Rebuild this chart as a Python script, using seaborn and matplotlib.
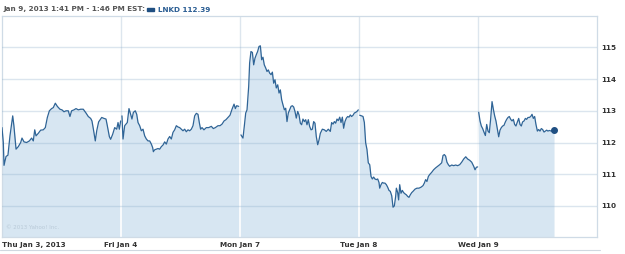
import numpy as np
import pandas as pd
import seaborn as sns
import matplotlib
matplotlib.use("Agg")
import matplotlib.pyplot as plt
from matplotlib.lines import Line2D
from matplotlib.patches import Rectangle

# ---- data: time in trading days since Thu Jan 3 open, price in USD ----
t_thu = [0.0, 0.011, 0.017, 0.034, 0.05, 0.067, 0.09, 0.1, 0.118, 0.137, 0.157, 0.168, 0.185,
         0.207, 0.23, 0.249, 0.263, 0.275, 0.286, 0.305, 0.325, 0.347, 0.364, 0.381, 0.398,
         0.417, 0.431, 0.448, 0.465, 0.487, 0.504, 0.521, 0.538, 0.557, 0.571, 0.585, 0.605,
         0.622, 0.641, 0.661, 0.683, 0.706, 0.725, 0.745, 0.756, 0.768, 0.784, 0.796, 0.812,
         0.838, 0.857, 0.874, 0.885, 0.902, 0.913, 0.93, 0.947, 0.964, 0.975, 0.986, 0.997]
p_thu = [112.47, 112.0, 111.28, 111.56, 111.6, 112.21, 112.84, 112.53, 111.79, 111.87, 112.0,
         112.14, 112.02, 112.0, 112.05, 112.14, 112.05, 112.4, 112.21, 112.29, 112.39, 112.4,
         112.47, 112.79, 113.0, 113.07, 113.1, 113.24, 113.14, 113.05, 113.03, 112.97, 113.0,
         113.0, 112.82, 113.0, 113.03, 113.07, 113.03, 113.05, 113.05, 112.93, 112.82, 112.76,
         112.68, 112.42, 112.05, 112.37, 112.65, 112.79, 112.76, 112.74, 112.53, 112.19, 112.1,
         112.26, 112.47, 112.42, 112.63, 112.42, 112.68]

t_fri = [1.008, 1.017, 1.031, 1.053, 1.067, 1.081, 1.092, 1.104, 1.12, 1.132, 1.143, 1.157,
         1.171, 1.185, 1.199, 1.213, 1.227, 1.241, 1.255, 1.266, 1.272, 1.283, 1.297, 1.311,
         1.325, 1.339, 1.353, 1.367, 1.381, 1.395, 1.409, 1.423, 1.437, 1.451, 1.465, 1.479,
         1.493, 1.507, 1.521, 1.535, 1.549, 1.563, 1.577, 1.591, 1.605, 1.619, 1.633, 1.647,
         1.658, 1.669, 1.681, 1.697, 1.717, 1.737, 1.759, 1.776, 1.793, 1.815, 1.832, 1.849,
         1.866, 1.882, 1.899, 1.916, 1.933, 1.95, 1.961, 1.972, 1.989]
p_fri = [112.84, 112.11, 112.53, 112.63, 113.07, 112.89, 112.74, 112.95, 113.0, 112.89, 112.63,
         112.53, 112.37, 112.42, 112.21, 112.11, 112.05, 112.05, 111.95, 111.84, 111.71, 111.77,
         111.79, 111.81, 111.79, 111.87, 111.92, 112.02, 111.95, 112.11, 112.19, 112.11, 112.32,
         112.4, 112.53, 112.49, 112.47, 112.42, 112.37, 112.42, 112.34, 112.4, 112.37, 112.42,
         112.53, 112.84, 112.92, 112.89, 112.63, 112.42, 112.47, 112.4, 112.47, 112.47, 112.51,
         112.44, 112.47, 112.53, 112.53, 112.58, 112.68, 112.72, 112.79, 112.86, 113.05, 113.21,
         113.07, 113.16, 113.14]

t_mon = [2.008, 2.025, 2.036, 2.048, 2.059, 2.073, 2.081, 2.092, 2.104, 2.115, 2.126, 2.137,
         2.148, 2.16, 2.171, 2.182, 2.193, 2.204, 2.216, 2.227, 2.238, 2.249, 2.261, 2.272,
         2.283, 2.294, 2.305, 2.317, 2.328, 2.339, 2.35, 2.361, 2.373, 2.384, 2.395, 2.406,
         2.417, 2.429, 2.44, 2.451, 2.462, 2.473, 2.485, 2.496, 2.507, 2.518, 2.529, 2.541,
         2.552, 2.563, 2.574, 2.585, 2.597, 2.608, 2.619, 2.63, 2.641, 2.653, 2.664, 2.675,
         2.692, 2.709, 2.725, 2.742, 2.759, 2.77, 2.782, 2.793, 2.804, 2.815, 2.826, 2.838,
         2.849, 2.86, 2.871, 2.882, 2.894, 2.905, 2.916, 2.927, 2.938, 2.95, 2.961, 2.972,
         2.983, 2.994]
p_mon = [112.24, 112.14, 112.51, 112.93, 113.03, 113.77, 114.51, 114.87, 114.84, 114.45, 114.66,
         114.77, 114.87, 115.03, 115.05, 114.61, 114.69, 114.45, 114.35, 114.24, 114.29, 114.19,
         114.14, 114.22, 113.87, 113.98, 113.72, 113.82, 113.56, 113.66, 113.35, 113.19, 113.03,
         113.08, 112.66, 112.93, 113.03, 113.14, 113.16, 113.12, 112.98, 112.77, 112.98, 112.87,
         112.61, 112.56, 112.74, 112.66, 112.72, 112.56, 112.72, 112.51, 112.4, 112.42, 112.66,
         112.61, 112.19, 111.93, 112.08, 112.29, 112.42, 112.4, 112.35, 112.42, 112.35, 112.63,
         112.58, 112.66, 112.61, 112.74, 112.69, 112.8, 112.63, 112.8, 112.45, 112.66, 112.77,
         112.82, 112.8, 112.87, 112.82, 112.86, 112.93, 112.95, 112.98, 113.03]

t_tue = [3.006, 3.022, 3.034, 3.045, 3.056, 3.067, 3.078, 3.09, 3.101, 3.112, 3.123, 3.134,
         3.146, 3.157, 3.168, 3.174, 3.185, 3.196, 3.207, 3.218, 3.23, 3.241, 3.252, 3.263,
         3.275, 3.286, 3.297, 3.308, 3.314, 3.325, 3.333, 3.342, 3.353, 3.364, 3.375, 3.387,
         3.398, 3.409, 3.42, 3.431, 3.443, 3.454, 3.471, 3.487, 3.504, 3.521, 3.538, 3.549,
         3.56, 3.571, 3.583, 3.594, 3.611, 3.627, 3.644, 3.661, 3.678, 3.695, 3.706, 3.717,
         3.728, 3.739, 3.751, 3.762, 3.779, 3.796, 3.812, 3.829, 3.846, 3.863, 3.88, 3.897,
         3.913, 3.93, 3.947, 3.964, 3.975, 3.986, 3.997]
p_tue = [112.86, 112.84, 112.82, 112.63, 111.99, 111.78, 111.36, 111.3, 110.93, 110.85, 110.91,
         110.85, 110.83, 110.85, 110.74, 110.56, 110.67, 110.74, 110.72, 110.72, 110.67, 110.59,
         110.49, 110.46, 110.32, 109.96, 110.0, 110.3, 110.56, 110.42, 110.19, 110.67, 110.4,
         110.49, 110.42, 110.38, 110.35, 110.3, 110.27, 110.35, 110.42, 110.46, 110.53, 110.56,
         110.56, 110.59, 110.64, 110.72, 110.83, 110.77, 110.93, 110.99, 111.06, 111.14, 111.2,
         111.25, 111.3, 111.36, 111.59, 111.62, 111.57, 111.38, 111.3, 111.25, 111.29, 111.27,
         111.29, 111.27, 111.3, 111.38, 111.48, 111.55, 111.48, 111.44, 111.38, 111.25, 111.14,
         111.22, 111.23]

t_wed = [4.006, 4.017, 4.028, 4.039, 4.05, 4.062, 4.073, 4.084, 4.095, 4.106, 4.118, 4.129,
         4.14, 4.151, 4.162, 4.174, 4.185, 4.196, 4.207, 4.218, 4.23, 4.241, 4.252, 4.263,
         4.275, 4.286, 4.297, 4.308, 4.319, 4.331, 4.342, 4.353, 4.364, 4.375, 4.387, 4.398,
         4.409, 4.42, 4.431, 4.443, 4.454, 4.465, 4.476, 4.487, 4.499, 4.51, 4.521, 4.532,
         4.543, 4.555, 4.566, 4.577, 4.588, 4.599, 4.616, 4.639]
p_wed = [112.95, 112.68, 112.52, 112.44, 112.33, 112.22, 112.57, 112.36, 112.31, 112.73, 113.29,
         113.05, 112.84, 112.68, 112.44, 112.18, 112.39, 112.47, 112.52, 112.54, 112.65, 112.73,
         112.79, 112.82, 112.73, 112.68, 112.73, 112.57, 112.52, 112.65, 112.76, 112.57, 112.52,
         112.65, 112.68, 112.76, 112.73, 112.79, 112.79, 112.82, 112.89, 112.76, 112.82, 112.57,
         112.36, 112.41, 112.36, 112.44, 112.41, 112.33, 112.36, 112.39, 112.36, 112.38, 112.36,
         112.39]

day_labels = ["Thu Jan 3, 2013", "Fri Jan 4", "Mon Jan 7", "Tue Jan 8", "Wed Jan 9"]
y_ticks = [110, 111, 112, 113, 114, 115]
ticker = "LNKD"
last_price = 112.39
header = "Jan 9, 2013 1:41 PM - 1:46 PM EST:"

# ---- build frame ----
frames = []
for i, (tt, pp) in enumerate([(t_thu, p_thu), (t_fri, p_fri), (t_mon, p_mon),
                                (t_tue, p_tue), (t_wed, p_wed)]):
    frames.append(pd.DataFrame({"t": tt, "price": pp, "day": i}))
df = pd.concat(frames, ignore_index=True)

sns.set_theme(style="white")
plt.rcParams['font.family'] = ['DejaVu Sans']

W, H = 625, 254
fig = plt.figure(figsize=(W / 100, H / 100), dpi=100)
ax = fig.add_axes([2 / W, (H - 237) / H, (597 - 2) / W, (237 - 16) / H])

line_c = "#2f6496"
fill_c = "#d7e6f2"
grid_c = "#dde6ee"
text_c = "#333333"

ymin, ymax = 109.02, 115.99
ax.set_xlim(0, 5)
ax.set_ylim(ymin, ymax)

# horizontal grid lines (semi transparent so they show darker over fill)
for yv in y_ticks:
    ax.axhline(yv, color="#8fb0cc", alpha=0.32, lw=1, zorder=3)
# vertical grid lines, light gray
for xv in range(1, 5):
    ax.axvline(xv, color=grid_c, lw=1, zorder=0.5)

fill = ax.fill_between(df["t"], df["price"], ymin, color=fill_c, lw=0, zorder=1)
# white day separators inside the filled area
for xv in range(1, 5):
    vl = ax.axvline(xv, color="white", lw=1.2, zorder=2)
    vl.set_clip_path(fill.get_paths()[0], fill.get_transform())

sns.lineplot(data=df, x="t", y="price", units="day", estimator=None, color=line_c,
             lw=0.9, ax=ax, zorder=4, legend=False)
ax.scatter([df["t"].iloc[-1]], [df["price"].iloc[-1]], s=16, color="#1f4f82", zorder=5)

ax.set_xlabel("")
ax.set_ylabel("")
ax.set_xticks(range(5))
ax.set_xticklabels(day_labels)
ax.set_yticks(y_ticks)
ax.set_yticklabels([str(v) for v in y_ticks])
ax.yaxis.tick_right()
ax.tick_params(axis="both", length=0, labelsize=5.2, colors=text_c)
ax.tick_params(axis="x", pad=3.5)
ax.tick_params(axis="y", pad=3)
for lab in ax.get_xticklabels() + ax.get_yticklabels():
    lab.set_fontweight("bold")
ax.get_xticklabels()[0].set_ha("left")

for s in ax.spines.values():
    s.set_color("#cfdbe6")
    s.set_linewidth(0.9)

# copyright
ax.text(5 / W * 0 + 0.006, 0.03, "\u00a9 2013 Yahoo! Inc.", transform=ax.transAxes,
        fontsize=4, color="#b9cad8", ha="left", va="bottom", zorder=6)

# header
fig.text(3 / W, 1 - 9.5 / H, header, fontsize=5.2, fontweight="bold", color="#555555",
         ha="left", va="center")
fig.patches.append(Rectangle((147 / W, 1 - 10.6 / H), 7 / W, 3 / H, transform=fig.transFigure,
                             color="#1f4f82", figure=fig))
fig.text(158 / W, 1 - 9.5 / H, f"{ticker} {last_price:.2f}", fontsize=5.2, fontweight="bold",
         color="#2a5d93", ha="left", va="center")

# line below the x labels
fig.add_artist(Line2D([0, 600 / W], [1 - 250 / H, 1 - 250 / H], transform=fig.transFigure,
                      color="#d0d8e0", lw=0.8))

fig.savefig("out.png", dpi=100, facecolor="white")
